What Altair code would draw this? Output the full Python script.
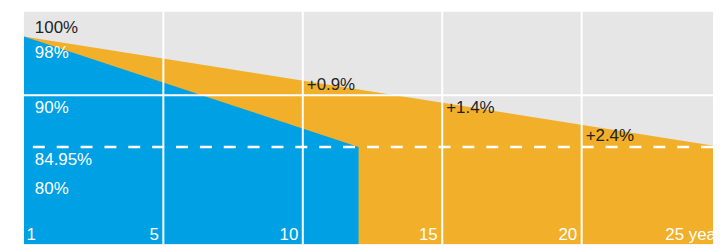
import altair as alt
import pandas as pd

# ---- data ----
orange_years = [0, 25]
orange_values = [98, 84.95]
blue_years = [0, 12]
blue_values = [98, 84.95]

grid_years = [5, 10, 15, 20]
grid_values = [90]
dashed_value = [84.95]

ylab_values = [100, 98, 90, 84.95, 80]
ylab_text = ["100%", "98%", "90%", "84.95%", "80%"]

xtick_values = [0, 5, 10, 15, 20, 25]
xtick_labels = ["1", "5", "10", "15", "20", "25 years"]

ann_years = [10, 15, 20]
ann_text = ["+0.9%", "+1.4%", "+2.4%"]
ann_values = [90.7, 88.25, 85.5]

BLUE = "#00A0E4"
ORANGE = "#F2B02A"
GRAY = "#E6E6E6"
DARK = "#222222"
FONT = "Liberation Sans"

orange_df = pd.DataFrame({"year": orange_years, "value": orange_values, "base": [0] * len(orange_years)})
blue_df = pd.DataFrame({"year": blue_years, "value": blue_values, "base": [0] * len(blue_years)})
gridx_df = pd.DataFrame({"year": grid_years})
gridy_df = pd.DataFrame({"value": grid_values})
dash_df = pd.DataFrame({"value": dashed_value})
ylab_df = pd.DataFrame({"value": ylab_values, "text": ylab_text, "year": [0] * len(ylab_values)})
xlab_df = pd.DataFrame({"year": xtick_values, "text": xtick_labels, "value": [0] * len(xtick_values)})
ann_df = pd.DataFrame({"year": ann_years, "text": ann_text, "value": ann_values})

# plot area is cut at the right edge, like the reference (25 years lies just past it)
xs = alt.Scale(domain=[0, 24.71], nice=False, zero=False)
ys = alt.Scale(domain=[100, 98, 90, 84.95, 80, 0], range=[0, 25, 84, 136, 165, 234],
               nice=False, zero=False)

X = lambda: alt.X("year:Q", scale=xs, axis=None)
Y = lambda: alt.Y("value:Q", scale=ys, axis=None)

orange = alt.Chart(orange_df).mark_area(color=ORANGE, clip=True).encode(
    x=X(), y=Y(), y2="base:Q")
blue = alt.Chart(blue_df).mark_area(color=BLUE, clip=True).encode(
    x=X(), y=Y(), y2="base:Q")

vgrid = alt.Chart(gridx_df).mark_rule(color="white", strokeWidth=2).encode(x=X())
hgrid = alt.Chart(gridy_df).mark_rule(color="white", strokeWidth=2).encode(y=Y())
dashed = alt.Chart(dash_df).mark_rule(color="white", strokeWidth=2.5, strokeDash=[12, 12]).encode(y=Y())

txt = dict(font=FONT, fontSize=17, clip=True)
ylab_top = alt.Chart(ylab_df).transform_filter("datum.value >= 98").mark_text(
    align="left", baseline="alphabetic", dx=11, dy=21.5, **txt).encode(
    x=X(), y=Y(), text="text:N",
    color=alt.condition("datum.value == 100", alt.value(DARK), alt.value("white")))
ylab_low = alt.Chart(ylab_df).transform_filter("datum.value < 98").mark_text(
    align="left", baseline="alphabetic", dx=11, dy=18, color="white", **txt).encode(
    x=X(), y=Y(), text="text:N")

xlab_first = alt.Chart(xlab_df).transform_filter("datum.year == 0").mark_text(
    align="left", baseline="alphabetic", dx=2.5, dy=-4, color="white", **txt).encode(
    x=X(), y=Y(), text="text:N")
xlab_mid = alt.Chart(xlab_df).transform_filter("datum.year > 0 && datum.year < 25").mark_text(
    align="right", baseline="alphabetic", dx=-4.5, dy=-4, color="white", **txt).encode(
    x=X(), y=Y(), text="text:N")
xlab_last = alt.Chart(xlab_df).transform_filter("datum.year == 25").mark_text(
    align="right", baseline="alphabetic", dx=9, dy=-4, color="white", **txt).encode(
    x=X(), y=Y(), text="text:N")

ann = alt.Chart(ann_df).mark_text(
    align="left", baseline="alphabetic", dx=4, color=DARK, **txt).encode(
    x=X(), y=Y(), text="text:N")

chart = alt.layer(
    orange, blue, vgrid, hgrid, dashed,
    ylab_top, ylab_low, xlab_first, xlab_mid, xlab_last, ann
).properties(
    width=693, height=234,
    padding={"left": 14, "top": 2, "right": 0, "bottom": 0},
).configure_view(fill=GRAY, strokeWidth=0)

chart.save("out.html", embed_options={"renderer": "svg", "actions": False})
